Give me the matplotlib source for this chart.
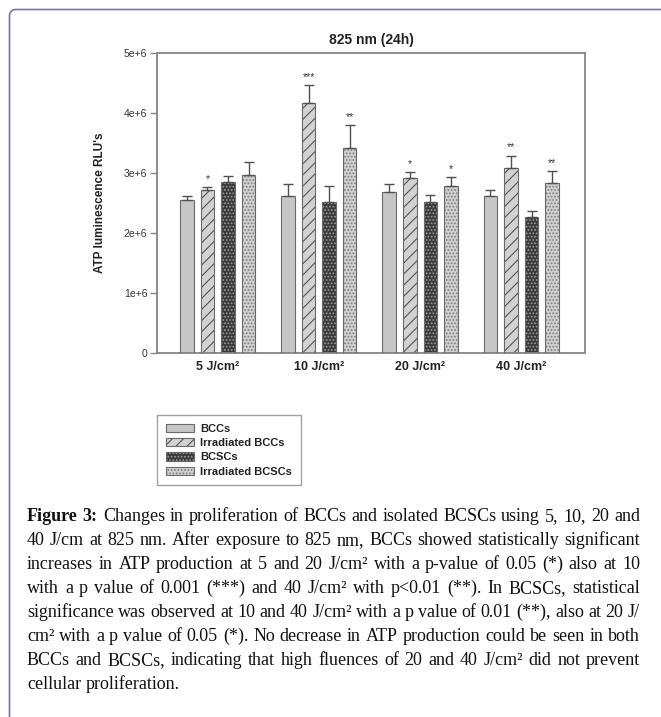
import matplotlib
matplotlib.use("Agg")
import matplotlib.pyplot as plt
import numpy as np
from matplotlib.lines import Line2D
from matplotlib.patches import Patch

# ---- data ----
groups = ["5 J/cm²", "10 J/cm²", "20 J/cm²", "40 J/cm²"]
series = ["BCCs", "Irradiated BCCs", "BCSCs", "Irradiated BCSCs"]

bccs = [2.55e6, 2.61e6, 2.69e6, 2.61e6]
bccs_err = [0.07e6, 0.21e6, 0.13e6, 0.11e6]
irr_bccs = [2.71e6, 4.17e6, 2.92e6, 3.08e6]
irr_bccs_err = [0.05e6, 0.29e6, 0.09e6, 0.21e6]
bcscs = [2.85e6, 2.52e6, 2.51e6, 2.26e6]
bcscs_err = [0.10e6, 0.27e6, 0.13e6, 0.11e6]
irr_bcscs = [2.96e6, 3.41e6, 2.79e6, 2.84e6]
irr_bcscs_err = [0.22e6, 0.39e6, 0.14e6, 0.19e6]

bccs_sig = ["", "", "", ""]
irr_bccs_sig = ["*", "***", "*", "**"]
bcscs_sig = ["", "", "", ""]
irr_bcscs_sig = ["", "**", "*", "**"]

yticks = [0, 1e6, 2e6, 3e6, 4e6, 5e6]
ytick_labels = ["0", "1e+6", "2e+6", "3e+6", "4e+6", "5e+6"]

caption_lines = [
    "Figure 3: Changes in proliferation of BCCs and isolated BCSCs using 5, 10, 20 and",
    "40 J/cm at 825 nm. After exposure to 825 nm, BCCs showed statistically significant",
    "increases in ATP production at 5 and 20 J/cm² with a p-value of 0.05 (*) also at 10",
    "with a p value of 0.001 (***) and 40 J/cm² with p<0.01 (**). In BCSCs, statistical",
    "significance was observed at 10 and 40 J/cm² with a p value of 0.01 (**), also at 20 J/",
    "cm² with a p value of 0.05 (*). No decrease in ATP production could be seen in both",
    "BCCs and BCSCs, indicating that high fluences of 20 and 40 J/cm² did not prevent",
    "cellular proliferation.",
]

# ---- styling ----
W, H = 661, 717
plt.rcParams["font.family"] = ["Liberation Sans", "DejaVu Sans"]
plt.rcParams["hatch.linewidth"] = 0.8

styles = [
    dict(fc="#c6c6c6", hatch=None, hc="#c6c6c6"),
    dict(fc="#d2d2d2", hatch="///", hc="#555555"),
    dict(fc="#3a3a3a", hatch=".....", hc="#9c9c9c"),
    dict(fc="#cfcfcf", hatch=".....", hc="#7c7c7c"),
]
outline = "#6a6a6a"
spine_c = "#858585"

fig = plt.figure(figsize=(W / 100, H / 100), dpi=100)
ax = fig.add_axes([157 / W, 1 - 353 / H, 428 / W, 300 / H])

x = np.arange(len(groups))
width = 0.134
offsets = np.array([-1.5, -0.5, 0.5, 1.5]) * 0.203

values = [bccs, irr_bccs, bcscs, irr_bcscs]
errors = [bccs_err, irr_bccs_err, bcscs_err, irr_bcscs_err]
sigs = [bccs_sig, irr_bccs_sig, bcscs_sig, irr_bcscs_sig]

handles = []
for i, name in enumerate(series):
    st = styles[i]
    pos = x + offsets[i]
    vals = np.array(values[i])
    errs = np.array(errors[i])
    ax.bar(pos, vals, width, color=st["fc"], edgecolor=st["hc"], hatch=st["hatch"],
           linewidth=0, zorder=2)
    ax.bar(pos, vals, width, fill=False, edgecolor=outline, linewidth=0.8, zorder=3)
    ax.errorbar(pos, vals, yerr=[np.zeros_like(errs), errs], fmt="none",
                ecolor="#505050", elinewidth=1.0, capsize=3.5, capthick=1.0, zorder=4)
    for p, v, e, s in zip(pos, vals, errs, sigs[i]):
        if s:
            ax.text(p, v + e + 0.09e6, s, ha="center", va="baseline",
                    fontsize=7.5, color="#333333")
    handles.append((Patch(facecolor=st["fc"], edgecolor=st["hc"], hatch=st["hatch"], linewidth=0),
                    Patch(fill=False, edgecolor=outline, linewidth=0.8)))

ax.set_xlim(-0.6, 3.63)
ax.set_ylim(0, 5e6)
ax.set_xticks(x)
ax.set_xticklabels(groups, fontsize=9, fontweight="bold", color="#222222")
ax.tick_params(axis="x", length=0, pad=6)
ax.set_yticks(yticks)
ax.set_yticklabels(ytick_labels, fontsize=7.5, color="#333333")
ax.tick_params(axis="y", direction="out", length=5, width=1.0, color=spine_c, pad=2)
for sp in ax.spines.values():
    sp.set_color(spine_c)
    sp.set_linewidth(1.3)
ax.set_ylabel("ATP luminescence RLU's", fontsize=8.5, fontweight="bold", color="#222222")
ax.yaxis.set_label_coords(-0.119, 0.5)

fig.text(371 / W, 1 - 40 / H, "825 nm (24h)", ha="center", va="center",
         fontsize=10, fontweight="bold", color="#222222")

fig.legend(handles, series, loc="upper left", bbox_to_anchor=(157 / W, 1 - 415 / H),
           bbox_transform=fig.transFigure, frameon=True, fancybox=False,
           edgecolor="#8a8a8a", prop={"weight": "bold", "size": 8},
           handlelength=2.5, handleheight=0.75, handletextpad=0.6, labelspacing=0.38,
           borderpad=0.8, borderaxespad=0)
leg = fig.legends[0]
leg.get_frame().set_linewidth(1.0)
for t in leg.get_texts():
    t.set_color("#222222")

# ---- caption, justified ----
renderer = fig.canvas.get_renderer()
cap_size = 13
left_px, right_px = 27, 640
space_px = 0.25 * cap_size * 100 / 72
for k, line in enumerate(caption_lines):
    words = line.split(" ")
    texts = []
    for j, wd in enumerate(words):
        bold = k == 0 and j < 2
        t = fig.text(0, 0, wd, fontsize=cap_size, family=["Liberation Serif", "DejaVu Serif"],
                     fontweight="bold" if bold else "normal", color="#111111",
                     ha="left", va="baseline")
        texts.append(t)
    widths = [t.get_window_extent(renderer).width for t in texts]
    if k < len(caption_lines) - 1 and len(words) > 1:
        gap = (right_px - left_px - sum(widths)) / (len(words) - 1)
    else:
        gap = space_px
    xp = left_px
    yb = 521 + 24 * k
    for t, w in zip(texts, widths):
        t.set_position((xp / W, 1 - yb / H))
        xp += w + gap

# ---- outer frame (left and top edge with rounded corner) ----
r = 6
ang = np.linspace(np.pi, np.pi / 2, 12)
fx = np.concatenate([[9.5], 9.5 + r + r * np.cos(ang), [W + 2]])
fy = np.concatenate([[H + 2], 9.5 + r - r * np.sin(ang), [9.5]])
fig.add_artist(Line2D(fx / W, 1 - fy / H, transform=fig.transFigure,
                      color="#7d74ab", linewidth=1.2))

fig.savefig("out.png", dpi=100)
